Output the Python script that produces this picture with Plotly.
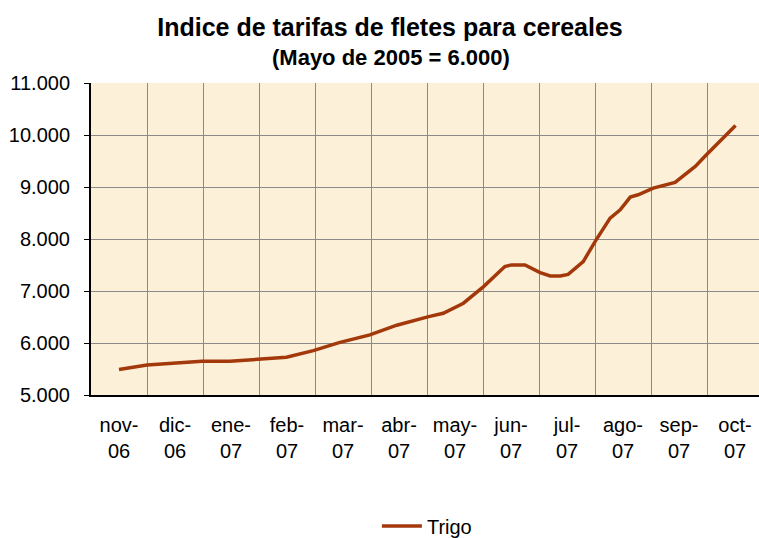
import plotly.graph_objects as go

# Month categories (tick labels)
month_labels = ["nov-<br>06", "dic-<br>06", "ene-<br>07", "feb-<br>07", "mar-<br>07", "abr-<br>07",
                "may-<br>07", "jun-<br>07", "jul-<br>07", "ago-<br>07", "sep-<br>07", "oct-<br>07"]
month_pos = list(range(len(month_labels)))

# Series "Trigo": position in months from nov-06 and index value
trigo_x = [0.0, 0.5, 1.48, 1.98, 2.48, 2.99, 3.47, 3.93, 4.48, 4.96, 5.53, 5.79, 6.15, 6.51,
           6.89, 7.01, 7.25, 7.52, 7.70, 7.88, 8.02, 8.29, 8.52, 8.77, 8.95, 9.13, 9.27,
           9.54, 9.93, 10.29, 10.49, 11.01]
trigo_y = [5490, 5577, 5648, 5648, 5687, 5726, 5853, 6007, 6155, 6342, 6507, 6572, 6765, 7085,
           7470, 7502, 7502, 7354, 7290, 7290, 7320, 7566, 7984, 8401, 8561, 8805, 8850,
           8979, 9087, 9395, 9620, 10184]

y_ticks = [5000, 6000, 7000, 8000, 9000, 10000, 11000]
grid_bounds = [i - 0.5 for i in range(len(month_labels) + 1)]

fig = go.Figure()
fig.add_trace(go.Scatter(
    x=trigo_x, y=trigo_y, mode="lines", name="Trigo",
    line=dict(color="#A3390B", width=3.5),
))

font_family = "Liberation Sans, Arial, sans-serif"

fig.update_layout(
    width=759, height=538,
    margin=dict(l=91, r=0, t=83, b=143, autoexpand=False),
    paper_bgcolor="white",
    plot_bgcolor="#FCF0D8",
    font=dict(family=font_family, size=20, color="black"),
    separators=",.",
    showlegend=True,
    legend=dict(orientation="h", x=0.428, xanchor="left", y=-0.42, yanchor="middle",
                font=dict(size=20), bgcolor="rgba(0,0,0,0)", itemwidth=40),
    title=dict(text="<b>Indice de tarifas de fletes para cereales</b>",
               x=390 / 759, xanchor="center", xref="container",
               y=1 - 27 / 538, yanchor="middle", yref="container",
               font=dict(size=25, family=font_family)),
    annotations=[dict(text="<b>(Mayo de 2005 = 6.000)</b>", xref="paper", yref="paper",
                      x=(391 - 91) / 668, y=(395 - 57) / 312, xanchor="center", yanchor="middle",
                      showarrow=False, font=dict(size=22, family=font_family))],
)

fig.update_xaxes(
    range=[-0.5, -0.5 + 668 / 56], automargin=False,
    tickmode="array", tickvals=month_pos, ticktext=month_labels,
    showgrid=False, zeroline=False,
    showline=True, linecolor="black", linewidth=2,
    ticks="", ticklabelstandoff=11,
    minor=dict(tickmode="array", tickvals=grid_bounds, showgrid=True,
               gridcolor="#8A8A8A", gridwidth=1, ticks=""),
)
fig.update_yaxes(
    range=[5000, 11000], automargin=False,
    tickmode="array", tickvals=y_ticks, tickformat=",d",
    showgrid=True, gridcolor="#8A8A8A", gridwidth=1, zeroline=False,
    showline=True, linecolor="black", linewidth=2,
    ticks="outside", ticklen=5, tickcolor="black", tickwidth=1,
    ticklabelstandoff=10,
)

fig.write_html("out.html", config={"displayModeBar": False},
               post_script="document.body.style.margin='0';document.body.style.padding='0';")
